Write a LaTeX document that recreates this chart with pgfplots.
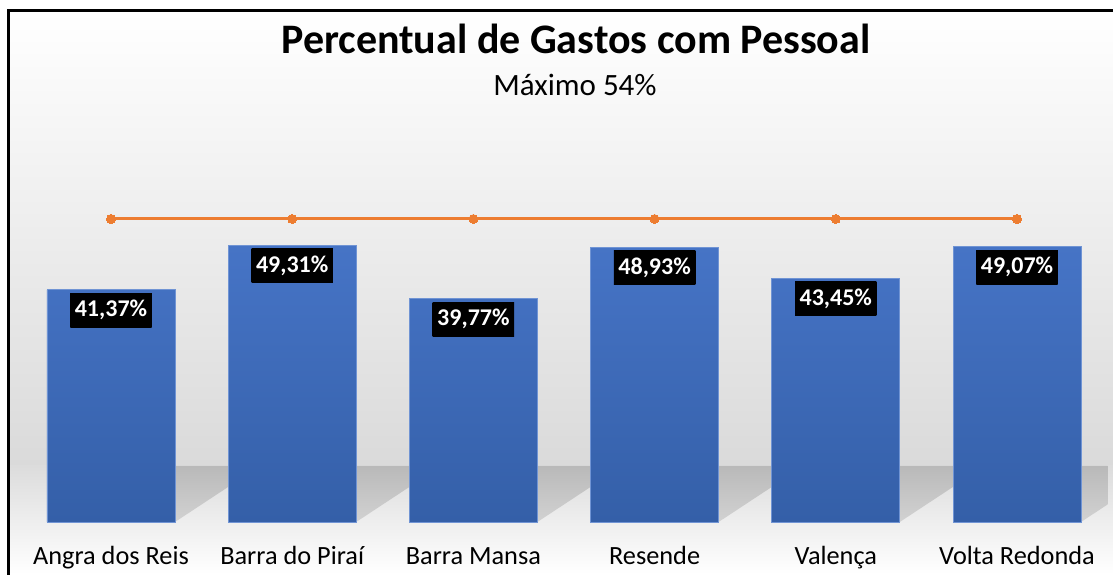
\documentclass[border=0pt]{standalone}
\usepackage{pgfplots}
\pgfplotsset{compat=1.18}
\usepackage{fontspec}
\setmainfont{Carlito}
\definecolor{barTop}{HTML}{4674C6}
\definecolor{barBot}{HTML}{345FA8}
\definecolor{barEdge}{HTML}{7094D4}
\definecolor{lineOr}{HTML}{ED7D31}
\definecolor{bgBot}{HTML}{DADADA}
\definecolor{floorTop}{HTML}{DCDCDC}
\definecolor{shadowT}{HTML}{B9B9B9}
\definecolor{shadowB}{HTML}{D2D2D2}
\begin{document}
\begin{tikzpicture}[x=1pt,y=1pt]
\path[use as bounding box] (0,0) rectangle (1113,574);
\fill[white] (0,0) rectangle (1113,574);
\shade[top color=white, bottom color=bgBot] (8,108) rectangle (1113,563);
\shade[top color=floorTop, bottom color=white] (8,0) rectangle (1113,108.5);
\draw[line width=3pt, line join=miter] (8,-2) -- (8,563) -- (1116,563);
\node[font=\fontsize{42}{50}\selectfont\bfseries, anchor=base, inner sep=0pt] at (576,520) {Percentual de Gastos com Pessoal};
\node[font=\fontsize{31}{36}\selectfont, anchor=base, inner sep=0pt] at (575,478) {Máximo 54\%};
\begin{axis}[
  at={(20.4pt,52pt)}, anchor=south west,
  scale only axis, width=1087.2pt, height=336.7pt,
  xmin=-0.5, xmax=5.5, ymin=0, ymax=60,
  axis line style={draw=none},
  major tick length=0pt,
  ytick=\empty,
  xtick={0,1,2,3,4,5},
  xticklabels={Angra dos Reis, Barra do Piraí, Barra Mansa, Resende, Valença, Volta Redonda},
  xticklabel style={anchor=base, yshift=-42pt, font=\fontsize{26.3}{30}\selectfont, inner sep=0pt},
  /pgf/number format/assume math mode=true,
]
\shade[top color=shadowT, bottom color=shadowB] (axis cs:-0.353,0) -- (axis cs:0.353,0) -- (axis cs:0.823,10) -- (axis cs:0.117,10) -- cycle;
\shade[top color=shadowT, bottom color=shadowB] (axis cs:0.647,0) -- (axis cs:1.353,0) -- (axis cs:1.823,10) -- (axis cs:1.117,10) -- cycle;
\shade[top color=shadowT, bottom color=shadowB] (axis cs:1.647,0) -- (axis cs:2.353,0) -- (axis cs:2.823,10) -- (axis cs:2.117,10) -- cycle;
\shade[top color=shadowT, bottom color=shadowB] (axis cs:2.647,0) -- (axis cs:3.353,0) -- (axis cs:3.823,10) -- (axis cs:3.117,10) -- cycle;
\shade[top color=shadowT, bottom color=shadowB] (axis cs:3.647,0) -- (axis cs:4.353,0) -- (axis cs:4.823,10) -- (axis cs:4.117,10) -- cycle;
\shade[top color=shadowT, bottom color=shadowB] (axis cs:4.647,0) -- (axis cs:5.353,0) -- (axis cs:5.823,10) -- (axis cs:5.117,10) -- cycle;
\addplot[ybar, bar width=128pt, draw=barEdge, line width=0.8pt, top color=barTop, bottom color=barBot,
  nodes near coords={\pgfmathprintnumber[fixed, fixed zerofill, precision=2, use comma]{\pgfplotspointmeta}\%},
  nodes near coords align={below},
  every node near coord/.append style={anchor=north, yshift=-3pt, fill=black, text=white,
    font=\fontsize{24}{28}\selectfont\bfseries, inner xsep=4.5pt, inner ysep=0pt, minimum height=34pt, draw=none, top color=black, bottom color=black},
] coordinates {(0,41.37) (1,49.31) (2,39.77) (3,48.93) (4,43.45) (5,49.07)};
\addplot[color=lineOr, line width=3pt, mark=*, mark size=4.5pt, mark options={fill=lineOr, draw=lineOr, line width=0pt}]
  coordinates {(0,54) (1,54) (2,54) (3,54) (4,54) (5,54)};
\end{axis}
\end{tikzpicture}
\end{document}
